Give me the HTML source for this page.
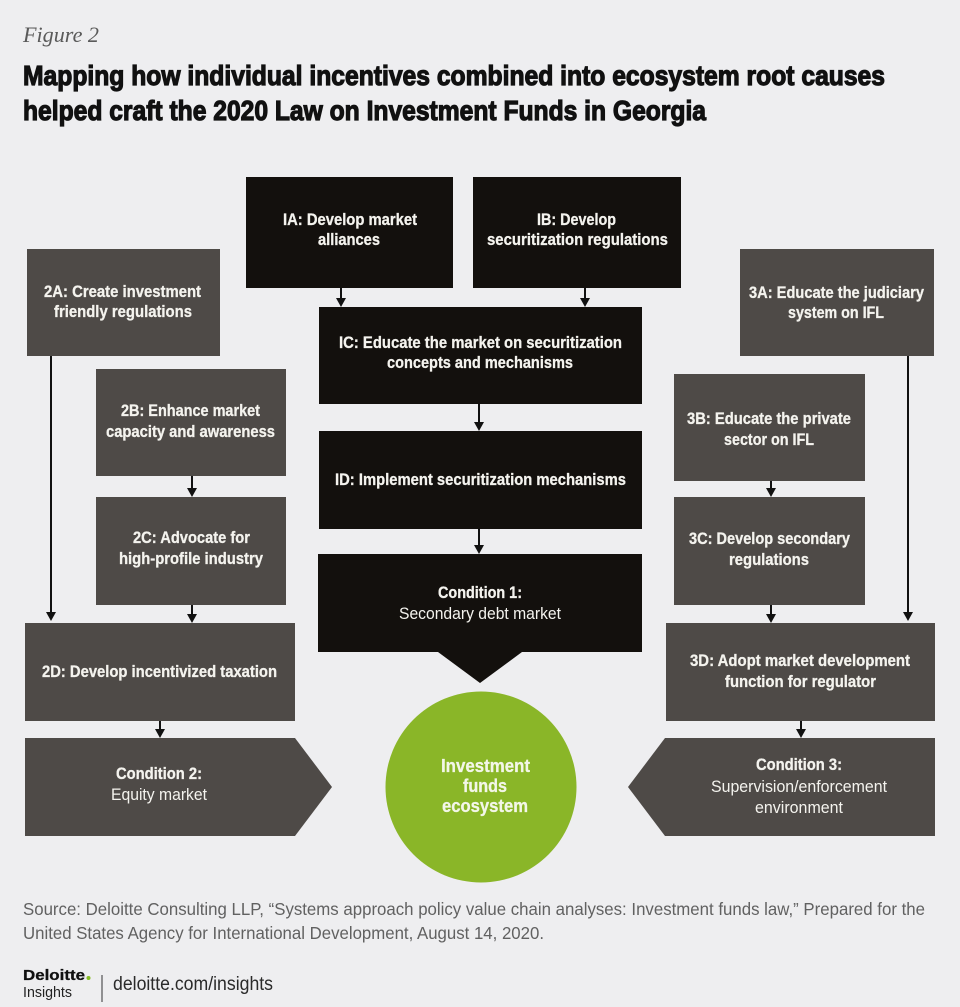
<!DOCTYPE html>
<html><head><meta charset="utf-8"><style>
html,body{margin:0;padding:0;background:#eeeef0;}
svg{display:block;}
</style></head><body>
<svg width="960" height="1007" viewBox="0 0 960 1007" xmlns="http://www.w3.org/2000/svg">
<rect x="0" y="0" width="960" height="1007" fill="#eeeef0"/>

<!-- Header -->
<text x="23" y="42" font-family="Liberation Serif, serif" font-style="italic" font-size="22" fill="#5a5a5a" textLength="76" lengthAdjust="spacingAndGlyphs">Figure 2</text>
<g font-family="Liberation Sans, sans-serif" font-weight="bold" font-size="28" fill="#111" stroke="#111" stroke-width="1.2">
<text x="23" y="85" textLength="862" lengthAdjust="spacingAndGlyphs">Mapping how individual incentives combined into ecosystem root causes</text>
<text x="23" y="120" textLength="683" lengthAdjust="spacingAndGlyphs">helped craft the 2020 Law on Investment Funds in Georgia</text>
</g>

<!-- Black boxes -->
<g fill="#13100d">
<rect x="246" y="177" width="207" height="111"/>
<rect x="473" y="177" width="208" height="111"/>
<rect x="319" y="307" width="323" height="97"/>
<rect x="319" y="431" width="323" height="98"/>
<polygon points="318,554 642,554 642,652 522,652 480,683 438,652 318,652"/>
</g>

<!-- Dark gray boxes -->
<g fill="#4e4a47">
<rect x="27" y="249" width="193" height="107"/>
<rect x="96" y="369" width="190" height="107"/>
<rect x="96" y="497" width="190" height="108"/>
<rect x="25" y="623" width="270" height="98"/>
<polygon points="25,738 295,738 332,787 295,836 25,836"/>
<rect x="740" y="249" width="194" height="107"/>
<rect x="674" y="374" width="191" height="107"/>
<rect x="674" y="497" width="191" height="108"/>
<rect x="666" y="623" width="269" height="98"/>
<polygon points="665,738 935,738 935,836 665,836 628,787"/>
</g>

<!-- Circle -->
<circle cx="481" cy="787" r="95.5" fill="#8ab628"/>

<!-- Arrows -->
<g stroke="#111" stroke-width="2" fill="none">
<line x1="341" y1="288" x2="341" y2="300"/>
<line x1="585" y1="288" x2="585" y2="300"/>
<line x1="479" y1="404" x2="479" y2="424"/>
<line x1="479" y1="529" x2="479" y2="547"/>
<line x1="51" y1="356" x2="51" y2="614"/>
<line x1="192" y1="476" x2="192" y2="490"/>
<line x1="192" y1="605" x2="192" y2="616"/>
<line x1="160" y1="721" x2="160" y2="731"/>
<line x1="908" y1="356" x2="908" y2="614"/>
<line x1="771" y1="481" x2="771" y2="490"/>
<line x1="771" y1="605" x2="771" y2="616"/>
<line x1="801" y1="721" x2="801" y2="731"/>
</g>
<g fill="#111">
<polygon points="336,298 346,298 341,307"/>
<polygon points="580,298 590,298 585,307"/>
<polygon points="474,422 484,422 479,431"/>
<polygon points="474,545 484,545 479,554"/>
<polygon points="46,612 56,612 51,621"/>
<polygon points="187,488 197,488 192,497"/>
<polygon points="187,614 197,614 192,623"/>
<polygon points="155,729 165,729 160,738"/>
<polygon points="903,612 913,612 908,621"/>
<polygon points="766,488 776,488 771,497"/>
<polygon points="766,614 776,614 771,623"/>
<polygon points="796,729 806,729 801,738"/>
</g>

<!-- Box labels -->
<g font-family="Liberation Sans, sans-serif" font-weight="bold" font-size="17" fill="#f4f3ee" stroke="#f4f3ee" stroke-width="0.3">
<text x="283" y="225" textLength="134" lengthAdjust="spacingAndGlyphs">IA: Develop market</text>
<text x="318" y="245" textLength="62" lengthAdjust="spacingAndGlyphs">alliances</text>
<text x="537" y="225" textLength="79" lengthAdjust="spacingAndGlyphs">IB: Develop</text>
<text x="487" y="245" textLength="181" lengthAdjust="spacingAndGlyphs">securitization regulations</text>
<text x="339" y="348" textLength="283" lengthAdjust="spacingAndGlyphs">IC: Educate the market on securitization</text>
<text x="387" y="368" textLength="186" lengthAdjust="spacingAndGlyphs">concepts and mechanisms</text>
<text x="335" y="485" textLength="291" lengthAdjust="spacingAndGlyphs">ID: Implement securitization mechanisms</text>
<text x="438" y="598" textLength="84" lengthAdjust="spacingAndGlyphs">Condition 1:</text>

<text x="44" y="297" textLength="157" lengthAdjust="spacingAndGlyphs">2A: Create investment</text>
<text x="54" y="317" textLength="138" lengthAdjust="spacingAndGlyphs">friendly regulations</text>
<text x="121" y="416" textLength="139" lengthAdjust="spacingAndGlyphs">2B: Enhance market</text>
<text x="106" y="437" textLength="169" lengthAdjust="spacingAndGlyphs">capacity and awareness</text>
<text x="133" y="543" textLength="117" lengthAdjust="spacingAndGlyphs">2C: Advocate for</text>
<text x="119" y="564" textLength="144" lengthAdjust="spacingAndGlyphs">high-profile industry</text>
<text x="42" y="677" textLength="235" lengthAdjust="spacingAndGlyphs">2D: Develop incentivized taxation</text>
<text x="116" y="779" textLength="86" lengthAdjust="spacingAndGlyphs">Condition 2:</text>

<text x="749" y="298" textLength="175" lengthAdjust="spacingAndGlyphs">3A: Educate the judiciary</text>
<text x="788" y="318" textLength="96" lengthAdjust="spacingAndGlyphs">system on IFL</text>
<text x="687" y="424" textLength="164" lengthAdjust="spacingAndGlyphs">3B: Educate the private</text>
<text x="724" y="445" textLength="90" lengthAdjust="spacingAndGlyphs">sector on IFL</text>
<text x="689" y="544" textLength="161" lengthAdjust="spacingAndGlyphs">3C: Develop secondary</text>
<text x="729" y="565" textLength="80" lengthAdjust="spacingAndGlyphs">regulations</text>
<text x="690" y="666" textLength="220" lengthAdjust="spacingAndGlyphs">3D: Adopt market development</text>
<text x="725" y="687" textLength="151" lengthAdjust="spacingAndGlyphs">function for regulator</text>
<text x="756" y="770" textLength="86" lengthAdjust="spacingAndGlyphs">Condition 3:</text>
</g>
<g font-family="Liberation Sans, sans-serif" font-size="17" fill="#f4f3ee">
<text x="399" y="619" textLength="162" lengthAdjust="spacingAndGlyphs">Secondary debt market</text>
<text x="111" y="800" textLength="96" lengthAdjust="spacingAndGlyphs">Equity market</text>
<text x="711" y="792" textLength="176" lengthAdjust="spacingAndGlyphs">Supervision/enforcement</text>
<text x="755" y="813" textLength="88" lengthAdjust="spacingAndGlyphs">environment</text>
</g>

<!-- Circle labels -->
<g font-family="Liberation Sans, sans-serif" font-weight="bold" font-size="18.5" fill="#f3f6e8" stroke="#f3f6e8" stroke-width="0.3">
<text x="441" y="772" textLength="89" lengthAdjust="spacingAndGlyphs">Investment</text>
<text x="463" y="792" textLength="44" lengthAdjust="spacingAndGlyphs">funds</text>
<text x="442" y="812" textLength="86" lengthAdjust="spacingAndGlyphs">ecosystem</text>
</g>

<!-- Footer -->
<g font-family="Liberation Sans, sans-serif" font-size="17.5" fill="#616161">
<text x="23" y="915" textLength="902" lengthAdjust="spacingAndGlyphs">Source: Deloitte Consulting LLP, “Systems approach policy value chain analyses: Investment funds law,” Prepared for the</text>
<text x="23" y="939" textLength="521" lengthAdjust="spacingAndGlyphs">United States Agency for International Development, August 14, 2020.</text>
</g>
<text x="23" y="980" font-family="Liberation Sans, sans-serif" font-weight="bold" font-size="15" fill="#111" stroke="#111" stroke-width="0.3" textLength="62" lengthAdjust="spacingAndGlyphs">Deloitte</text>
<circle cx="88.5" cy="978" r="2" fill="#86bc25"/>
<text x="23" y="997" font-family="Liberation Sans, sans-serif" font-size="14.5" fill="#222" textLength="49" lengthAdjust="spacingAndGlyphs">Insights</text>
<line x1="102" y1="975" x2="102" y2="1002" stroke="#333" stroke-width="1"/>
<text x="113" y="990" font-family="Liberation Sans, sans-serif" font-size="19.5" fill="#2a2a2a" textLength="160" lengthAdjust="spacingAndGlyphs">deloitte.com/insights</text>
</svg>
</body></html>
